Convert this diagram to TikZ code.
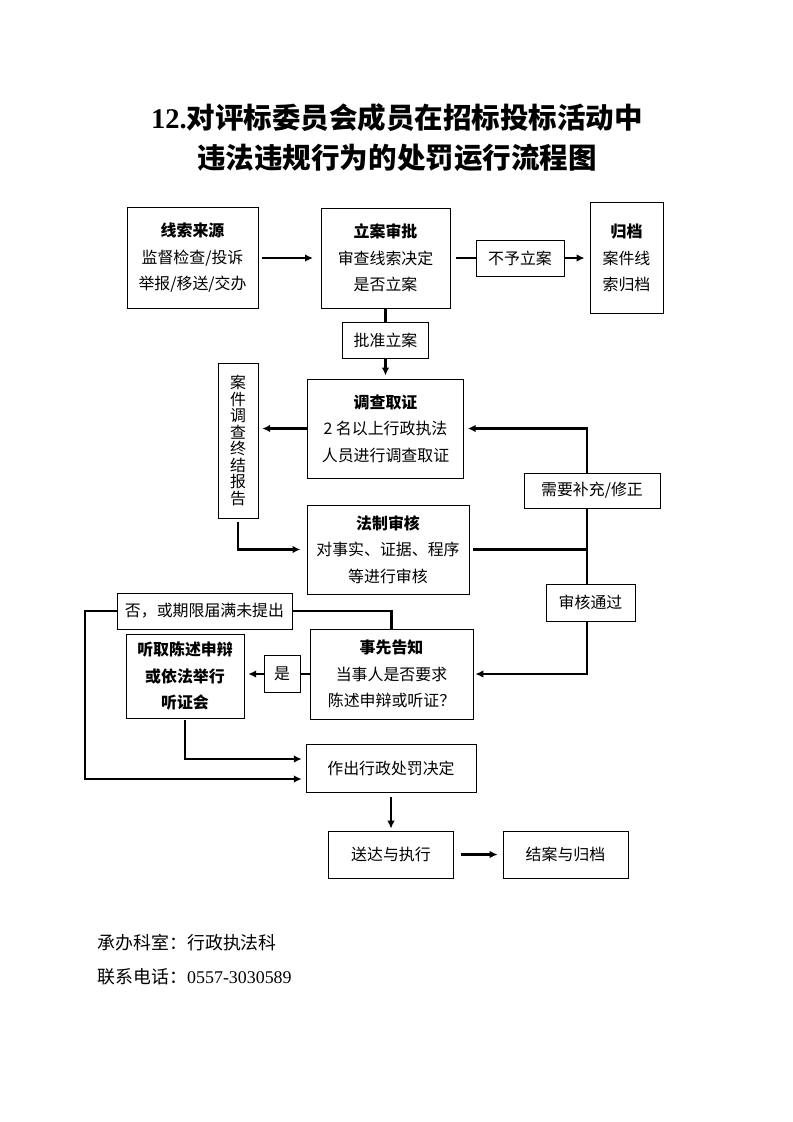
\documentclass[tikz,border=0pt]{standalone}
\usepackage{fontspec}
\setmainfont{Liberation Serif}
\newfontfamily\cjk{Noto Sans CJK SC}
\usetikzlibrary{calc, arrows.meta}
\newcommand\hd[1]{{\bfseries #1}}
\tikzset{box/.style 2 args={draw, line width=0.75pt, align=center, inner sep=0pt, minimum width=#1*0.265mm, minimum height=#2*0.265mm, font=\cjk\fontsize{12}{20}\selectfont}}
\tikzset{link/.style={line width=1.9pt}, flow/.style={line width=1.9pt, ->, >={Latex[length=2.1mm, width=2mm]}}}

\begin{document}
\begin{tikzpicture}[x=0.265mm, y=-0.265mm]
\useasboundingbox (0,0) rectangle (793,1122);
\node[font=\cjk\bfseries\fontsize{21.5}{30}\selectfont, align=center] (title) at (397,138) {{\rmfamily 12.}对评标委员会成员在招标投标活动中\\违法违规行为的处罚运行流程图};
\node[box={131}{101}] (src) at (192.5,258) {\hd{线索来源}\\监督检查/投诉\\举报/移送/交办};
\node[box={129}{100}] (appr) at (385.5,258) {\hd{立案审批}\\审查线索决定\\是否立案};
\node[box={88}{36}] (rej) at (520,258) {不予立案};
\node[box={73}{111}] (arch) at (626.5,258) {\hd{归档}\\案件线\\索归档};
\node[box={86}{36}] (okc) at (385.5,340) {批准立案};
\node[box={156}{99}] (inv) at (385.5,428.5) {\hd{调查取证}\\2 名以上行政执法\\人员进行调查取证};
\node[box={40}{155}, font=\cjk\fontsize{12}{12.5}\selectfont] (rep) at (238,440.5) {案\\件\\调\\查\\终\\结\\报\\告};
\node[box={162}{89}] (legal) at (388,549.5) {\hd{法制审核}\\对事实、证据、程序\\等进行审核};
\node[box={136}{35}] (fix) at (592,490.5) {需要补充/修正};
\node[box={89}{37}] (pass) at (590.5,602.5) {审核通过};
\node[box={175}{36}] (no) at (204.5,611) {否，或期限届满未提出};
\node[box={118}{84}] (hear) at (185,676) {\hd{听取陈述申辩}\\\hd{或依法举行}\\\hd{听证会}};
\node[box={36}{37}] (yes) at (282,674) {是};
\node[box={163}{90}] (ntf) at (391.5,674) {\hd{事先告知}\\当事人是否要求\\陈述申辩或听证？};
\node[box={170}{48}] (dec) at (391,768) {作出行政处罚决定};
\node[box={125}{47}] (dlv) at (391,854.5) {送达与执行};
\node[box={125}{47}] (cls) at (565.5,854.5) {结案与归档};
\node[anchor=west, font=\cjk\fontsize{13.5}{20}\selectfont] (dept) at (93,943) {承办科室：行政执法科};
\node[anchor=west, font=\cjk\fontsize{13.5}{20}\selectfont] (tel) at (93,977) {联系电话：{\rmfamily 0557-3030589}};
\coordinate (jn) at (587,549.5);
\coordinate (lf) at (85,611);
\draw[flow, shorten <=1mm, shorten >=2mm] (src.east) -- (appr.west);
\draw[link, shorten <=1.5mm] (appr.east) -- (rej.west);
\draw[flow, shorten >=1.3mm] (rej.east) -- (arch.west);
\draw[link] (appr.south) -- (okc.north);
\draw[flow, shorten >=0.8mm] (okc.south) -- (inv.north);
\draw[flow, shorten >=1mm] (inv.west) -- (inv.west -| rep.east);
\draw[flow, shorten <=0.8mm, shorten >=1.6mm] (rep.south) |- (legal.west);
\draw[link, shorten <=1mm] (legal.east) -- (jn);
\draw[link] (jn) -- (fix.south -| jn);
\draw[flow, shorten >=1mm] (fix.north -| jn) |- (inv.east);
\draw[link] (jn) -- (pass.north -| jn);
\draw[flow, shorten >=0.5mm] (pass.south -| jn) |- (ntf.east);
\draw[link] (ntf.north) |- (no.east);
\draw[flow, shorten >=1mm] (no.west) -- (lf) |- ($(dec.west)+(0,11)$);
\draw[link] (ntf.west) -- (yes.east);
\draw[flow, shorten >=1mm] (yes.west) -- (yes.west -| hear.east);
\draw[flow, shorten <=0.5mm, shorten >=1mm] (hear.south) |- ($(dec.west)+(0,-9)$);
\draw[flow, shorten <=1.3mm, shorten >=0.5mm] (dec.south) -- (dlv.north);
\draw[flow, shorten <=1.8mm, shorten >=1.3mm] (dlv.east) -- (cls.west);
\end{tikzpicture}
\end{document}
